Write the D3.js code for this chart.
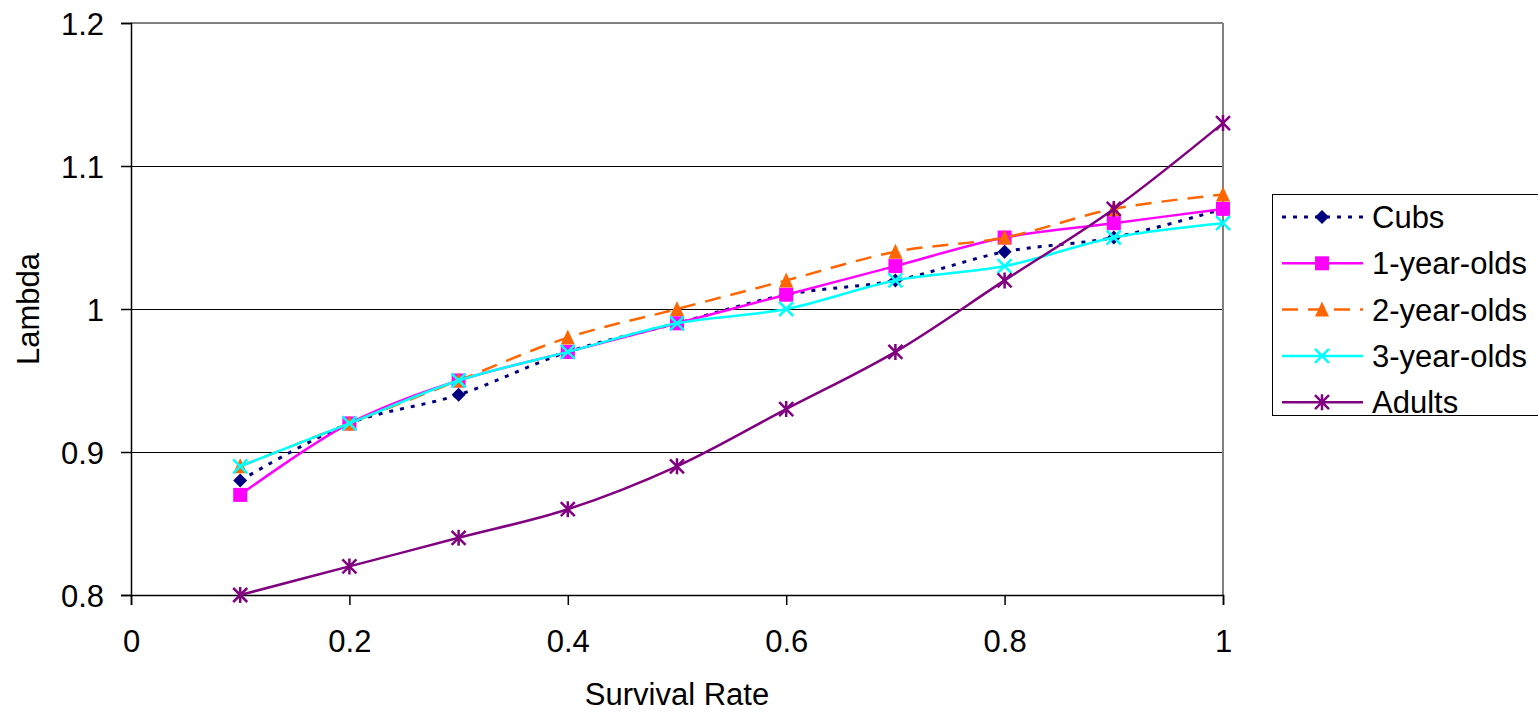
<!DOCTYPE html>
<html><head><meta charset="utf-8">
<script src="https://cdn.jsdelivr.net/npm/d3@7"></script>
<style>body{margin:0;background:#fff;}svg{display:block;font-family:"Liberation Sans",Arial,sans-serif;}</style>
</head><body>
<script>
const xValues = [0.1,0.2,0.3,0.4,0.5,0.6,0.7,0.8,0.9,1.0];
const cubs = [0.88,0.92,0.94,0.97,0.99,1.01,1.02,1.04,1.05,1.07];
const oneYear = [0.87,0.92,0.95,0.97,0.99,1.01,1.03,1.05,1.06,1.07];
const twoYear = [0.89,0.92,0.95,0.98,1.00,1.02,1.04,1.05,1.07,1.08];
const threeYear = [0.89,0.92,0.95,0.97,0.99,1.00,1.02,1.03,1.05,1.06];
const adults = [0.80,0.82,0.84,0.86,0.89,0.93,0.97,1.02,1.07,1.13];
const seriesNames = ["Cubs","1-year-olds","2-year-olds","3-year-olds","Adults"];
const xTicks = [0,0.2,0.4,0.6,0.8,1];
const yTicks = [0.8,0.9,1,1.1,1.2];
const xTitle = "Survival Rate", yTitle = "Lambda";

const W=1538,H=714,FS=31;
const svg=d3.select("body").append("svg").attr("width",W).attr("height",H);
const x=d3.scaleLinear().domain([0,1]).range([131,1223]);
const y=d3.scaleLinear().domain([0.8,1.2]).range([595,23]);

const styles=[
 {color:"#000080",dash:"4,7",marker:"diamond"},
 {color:"#FF00FF",dash:null,marker:"square"},
 {color:"#FF6600",dash:"16,10",marker:"triangle"},
 {color:"#00FFFF",dash:null,marker:"x"},
 {color:"#800080",dash:null,marker:"star"}
];
const data=[cubs,oneYear,twoYear,threeYear,adults];

// gridlines
svg.append("g").selectAll("line").data(yTicks.filter(v=>v>0.8&&v<1.2)).join("line")
 .attr("x1",x(0)).attr("x2",x(1)).attr("y1",d=>y(d)).attr("y2",d=>y(d))
 .attr("stroke","#000").attr("stroke-width",1).attr("shape-rendering","crispEdges");
// top & right border gray
svg.append("line").attr("x1",x(0)).attr("x2",x(1)).attr("y1",y(1.2)).attr("y2",y(1.2)).attr("stroke","#808080").attr("stroke-width",2).attr("shape-rendering","crispEdges");
svg.append("line").attr("x1",x(1)).attr("x2",x(1)).attr("y1",y(1.2)).attr("y2",y(0.8)).attr("stroke","#808080").attr("stroke-width",2).attr("shape-rendering","crispEdges");

// axes
const xAxis=d3.axisBottom(x).tickValues(xTicks).tickSize(10).tickFormat(d=>d3.format("")(d));
const gx=svg.append("g").attr("transform",`translate(0,${y(0.8)})`).call(xAxis);
gx.select(".domain").attr("stroke","#000").attr("stroke-width",1.5);
gx.selectAll(".tick line").attr("stroke","#000").attr("stroke-width",1.5);
gx.selectAll(".tick text").attr("font-size",FS).attr("fill","#000").attr("dy","0").attr("y",57).attr("font-family","Liberation Sans, Arial, sans-serif");
const yAxis=d3.axisLeft(y).tickValues(yTicks).tickSize(10).tickFormat(d=>d3.format("")(d));
const gy=svg.append("g").attr("transform",`translate(${x(0)},0)`).call(yAxis);
gy.select(".domain").attr("stroke","#000").attr("stroke-width",1.5);
gy.selectAll(".tick line").attr("stroke","#000").attr("stroke-width",1.5);
gy.selectAll(".tick text").attr("font-size",FS).attr("fill","#000").attr("x",-27).attr("dy","0.36em").attr("font-family","Liberation Sans, Arial, sans-serif");

// titles
svg.append("text").attr("x",(x(0)+x(1))/2).attr("y",705).attr("text-anchor","middle").attr("font-size",FS).text(xTitle);
svg.append("text").attr("transform",`translate(39,${(y(0.8)+y(1.2))/2}) rotate(-90)`).attr("text-anchor","middle").attr("font-size",FS).text(yTitle);

function drawMarker(g,type,color){
 const s=7;
 if(type==="diamond") g.append("path").attr("d",`M0,${-s}L${s},0L0,${s}L${-s},0Z`).attr("fill",color);
 else if(type==="square") g.append("rect").attr("x",-s).attr("y",-s).attr("width",2*s).attr("height",2*s).attr("fill",color);
 else if(type==="triangle") g.append("path").attr("d",`M0,${-s-1}L${s},${s}L${-s},${s}Z`).attr("fill",color);
 else if(type==="x") g.append("path").attr("d",`M${-s},${-s}L${s},${s}M${-s},${s}L${s},${-s}`).attr("stroke",color).attr("stroke-width",2.5).attr("fill","none");
 else if(type==="star") g.append("path").attr("d",`M${-s},${-s}L${s},${s}M${-s},${s}L${s},${-s}M0,${-s-1}L0,${s+1}`).attr("stroke",color).attr("stroke-width",2.5).attr("fill","none");
}

const line=d3.line().x((d,i)=>x(xValues[i])).y(d=>y(d)).curve(d3.curveCatmullRom.alpha(0.5));
data.forEach((vals,k)=>{
 const st=styles[k];
 const g=svg.append("g");
 g.append("path").attr("d",line(vals)).attr("fill","none").attr("stroke",st.color).attr("stroke-width",k===0?3:2.5)
  .attr("stroke-dasharray",st.dash);
 vals.forEach((v,i)=>{
  const mg=g.append("g").attr("transform",`translate(${x(xValues[i])},${y(v)})`);
  drawMarker(mg,st.marker,st.color);
 });
});

// legend
const lg=svg.append("g");
lg.append("rect").attr("x",1272.5).attr("y",194.5).attr("width",266).attr("height",221).attr("fill","#fff").attr("stroke","#000").attr("stroke-width",1);
seriesNames.forEach((n,k)=>{
 const st=styles[k];
 const cy=217+k*46.3;
 lg.append("line").attr("x1",1282).attr("x2",1363).attr("y1",cy).attr("y2",cy).attr("stroke",st.color).attr("stroke-width",k===0?3:2.5).attr("stroke-dasharray",st.dash);
 const mg=lg.append("g").attr("transform",`translate(1322,${cy})`);
 drawMarker(mg,st.marker,st.color);
 lg.append("text").attr("x",1372).attr("y",cy).attr("dy","0.36em").attr("font-size",FS).text(n);
});
</script>
</body></html>
